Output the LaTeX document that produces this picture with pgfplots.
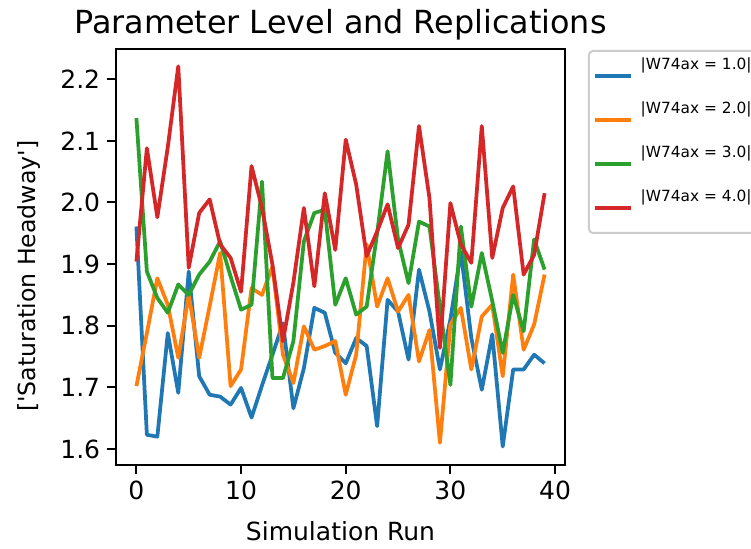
\documentclass[border=0pt]{standalone}
\usepackage{pgfplots}
\pgfplotsset{compat=1.18}
\usepackage{fontspec}
\setmainfont{DejaVu Sans}[Ligatures=TeXOff]

\definecolor{tabblue}{RGB}{31,119,180}
\definecolor{taborange}{RGB}{255,127,14}
\definecolor{tabgreen}{RGB}{44,160,44}
\definecolor{tabred}{RGB}{214,39,40}

\newcommand{\tickfont}{\fontsize{12.5}{15}\selectfont}

\begin{document}
\begin{tikzpicture}
\begin{axis}[
  scale only axis,
  width=224.5pt, height=208pt,
  xmin=-1.95, xmax=40.95,
  ymin=1.574, ymax=2.249,
  xtick={0,10,20,30,40},
  ytick={1.6,1.7,1.8,1.9,2.0,2.1,2.2},
  yticklabel style={/pgf/number format/.cd, fixed, fixed zerofill, precision=1},
  /pgf/number format/assume math mode=true,
  tick pos=left,
  tick align=outside,
  major tick length=4.4pt,
  every tick/.style={black, line width=1pt},
  axis line style={line width=1pt},
  ticklabel style={font=\tickfont},
  title={Parameter Level and Replications},
  title style={font=\fontsize{15.9}{19}\selectfont, at={(axis description cs:0.5,1.0096)}, anchor=base},
  xlabel={Simulation Run},
  xlabel style={font=\tickfont, at={(axis description cs:0.5,-0.1803)}, anchor=base},
  ylabel={['Saturation Headway']},
  ylabel style={font=\fontsize{11.8}{14}\selectfont, at={(axis description cs:-0.18,0.4536)}, anchor=base},
  legend cell align=left,
  legend style={
    at={(axis description cs:1.0512,0.9976)}, anchor=north west,
    draw=black!20, line width=1pt, rounded corners=2pt, fill=white,
    font=\fontsize{7.7}{9.2}\selectfont,
    inner xsep=2pt, inner ysep=0.5pt, row sep=-2pt, column sep=2pt,
  },
  legend image code/.code={
    \path[draw=none, fill=none] (0pt,6.5pt) rectangle (18pt,-17.5pt);
    \draw[#1] (0pt,-5.5pt) -- (18pt,-5.5pt);
  },
  every axis plot/.append style={line width=1.875pt, line join=round},
]
\addplot[tabblue] coordinates {
(0,1.961) (1,1.623) (2,1.620) (3,1.788) (4,1.691) (5,1.888) (6,1.718) (7,1.688)
(8,1.685) (9,1.672) (10,1.699) (11,1.651) (12,1.703) (13,1.753) (14,1.804) (15,1.666)
(16,1.731) (17,1.829) (18,1.821) (19,1.756) (20,1.739) (21,1.780) (22,1.767) (23,1.637)
(24,1.842) (25,1.823) (26,1.745) (27,1.891) (28,1.823) (29,1.729) (30,1.810) (31,1.920)
(32,1.780) (33,1.696) (34,1.786) (35,1.604) (36,1.729) (37,1.729) (38,1.753) (39,1.739)
};
\addlegendentry{|W74ax = 1.0|}
\addplot[taborange] coordinates {
(0,1.702) (1,1.788) (2,1.877) (3,1.834) (4,1.748) (5,1.850) (6,1.748) (7,1.832)
(8,1.918) (9,1.702) (10,1.729) (11,1.861) (12,1.850) (13,1.896) (14,1.753) (15,1.707)
(16,1.799) (17,1.761) (18,1.767) (19,1.775) (20,1.688) (21,1.753) (22,1.932) (23,1.831)
(24,1.877) (25,1.823) (26,1.850) (27,1.742) (28,1.793) (29,1.610) (30,1.802) (31,1.829)
(32,1.729) (33,1.815) (34,1.834) (35,1.718) (36,1.883) (37,1.761) (38,1.802) (39,1.883)
};
\addlegendentry{|W74ax = 2.0|}
\addplot[tabgreen] coordinates {
(0,2.137) (1,1.888) (2,1.845) (3,1.821) (4,1.867) (5,1.850) (6,1.883) (7,1.904)
(8,1.937) (9,1.880) (10,1.826) (11,1.834) (12,2.034) (13,1.715) (14,1.715) (15,1.775)
(16,1.937) (17,1.983) (18,1.988) (19,1.834) (20,1.877) (21,1.818) (22,1.831) (23,1.950)
(24,2.083) (25,1.940) (26,1.869) (27,1.969) (28,1.961) (29,1.830) (30,1.704) (31,1.961)
(32,1.831) (33,1.918) (34,1.840) (35,1.756) (36,1.850) (37,1.791) (38,1.940) (39,1.891)
};
\addlegendentry{|W74ax = 3.0|}
\addplot[tabred] coordinates {
(0,1.904) (1,2.088) (2,1.976) (3,2.090) (4,2.221) (5,1.894) (6,1.983) (7,2.005)
(8,1.932) (9,1.910) (10,1.855) (11,2.059) (12,1.991) (13,1.899) (14,1.775) (15,1.870)
(16,1.991) (17,1.864) (18,2.015) (19,1.923) (20,2.102) (21,2.029) (22,1.913) (23,1.953)
(24,1.997) (25,1.926) (26,1.964) (27,2.124) (28,2.007) (29,1.764) (30,1.999) (31,1.932)
(32,1.902) (33,2.124) (34,1.910) (35,1.991) (36,2.026) (37,1.883) (38,1.915) (39,2.015)
};
\addlegendentry{|W74ax = 4.0|}
\end{axis}
\pgfresetboundingbox
\useasboundingbox (-58pt,-41.5pt) rectangle (317.5pt,232.5pt);
\end{tikzpicture}
\end{document}
